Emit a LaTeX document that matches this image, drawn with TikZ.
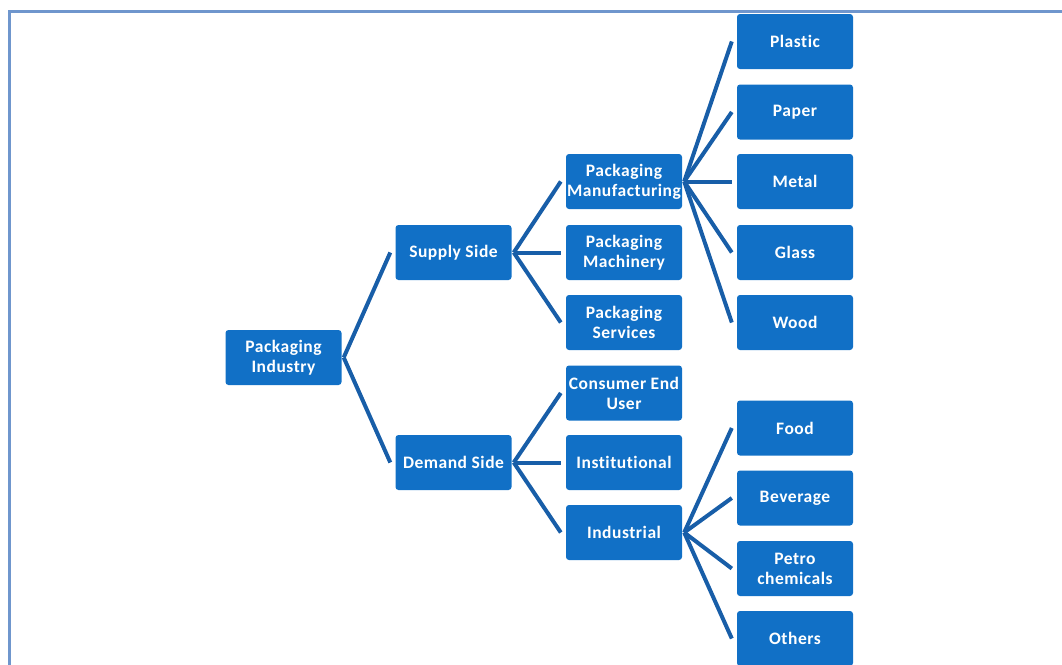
\documentclass[tikz,border=0pt]{standalone}
\usepackage{fontspec}
\setmainfont[Ligatures=NoCommon, LetterSpace=3]{Carlito}
\definecolor{boxblue}{RGB}{17,112,198}
\definecolor{linkblue}{RGB}{24,94,168}
\definecolor{frameblue}{RGB}{111,150,205}
\tikzset{
  bx/.style={fill=boxblue, draw=none, rounded corners=3pt, minimum width=116pt, minimum height=55pt,
    inner sep=0pt, align=center, text=white, font=\bfseries\fontsize{17.5}{20}\selectfont},
  link/.style={draw=linkblue, line width=4pt}
}
\begin{document}
\begin{tikzpicture}[x=1pt,y=1pt]
\useasboundingbox (0,0) rectangle (1062,-664);
\draw[frameblue, line width=3pt] (9,-11) rectangle (1090,-700);
% level 1
\node[bx] (pi) at (283.5,-357.5) {Packaging\\Industry};
% level 2
\node[bx] (ss) at (453.5,-252.5) {Supply Side};
\node[bx] (ds) at (453.5,-462.5) {Demand Side};
% level 3
\node[bx] (pm) at (624,-181.5) {Packaging\\Manufacturing};
\node[bx] (pmc) at (624,-252.5) {Packaging\\Machinery};
\node[bx] (ps) at (624,-322.5) {Packaging\\Services};
\node[bx] (ce) at (624,-393) {Consumer End\\User};
\node[bx] (in) at (624,-462.5) {Institutional};
\node[bx] (id) at (624,-532.5) {Industrial};
% level 4
\node[bx] (pl) at (795,-41.5) {Plastic};
\node[bx] (pa) at (795,-112) {Paper};
\node[bx] (me) at (795,-181.5) {Metal};
\node[bx] (gl) at (795,-252.5) {Glass};
\node[bx] (wo) at (795,-322.5) {Wood};
\node[bx] (fo) at (795,-428) {Food};
\node[bx] (be) at (795,-498) {Beverage};
\node[bx] (pc) at (795,-568.5) {Petro\\chemicals};
\node[bx] (ot) at (795,-638.5) {Others};
% connectors
\foreach \p/\c in {pi/ss, pi/ds, ss/pm, ss/pmc, ss/ps, ds/ce, ds/in, ds/id,
                   pm/pl, pm/pa, pm/me, pm/gl, pm/wo, id/fo, id/be, id/pc, id/ot}
  \draw[link] ([xshift=2pt]\p.east) -- ([xshift=-5pt]\c.west);
\end{tikzpicture}
\end{document}
